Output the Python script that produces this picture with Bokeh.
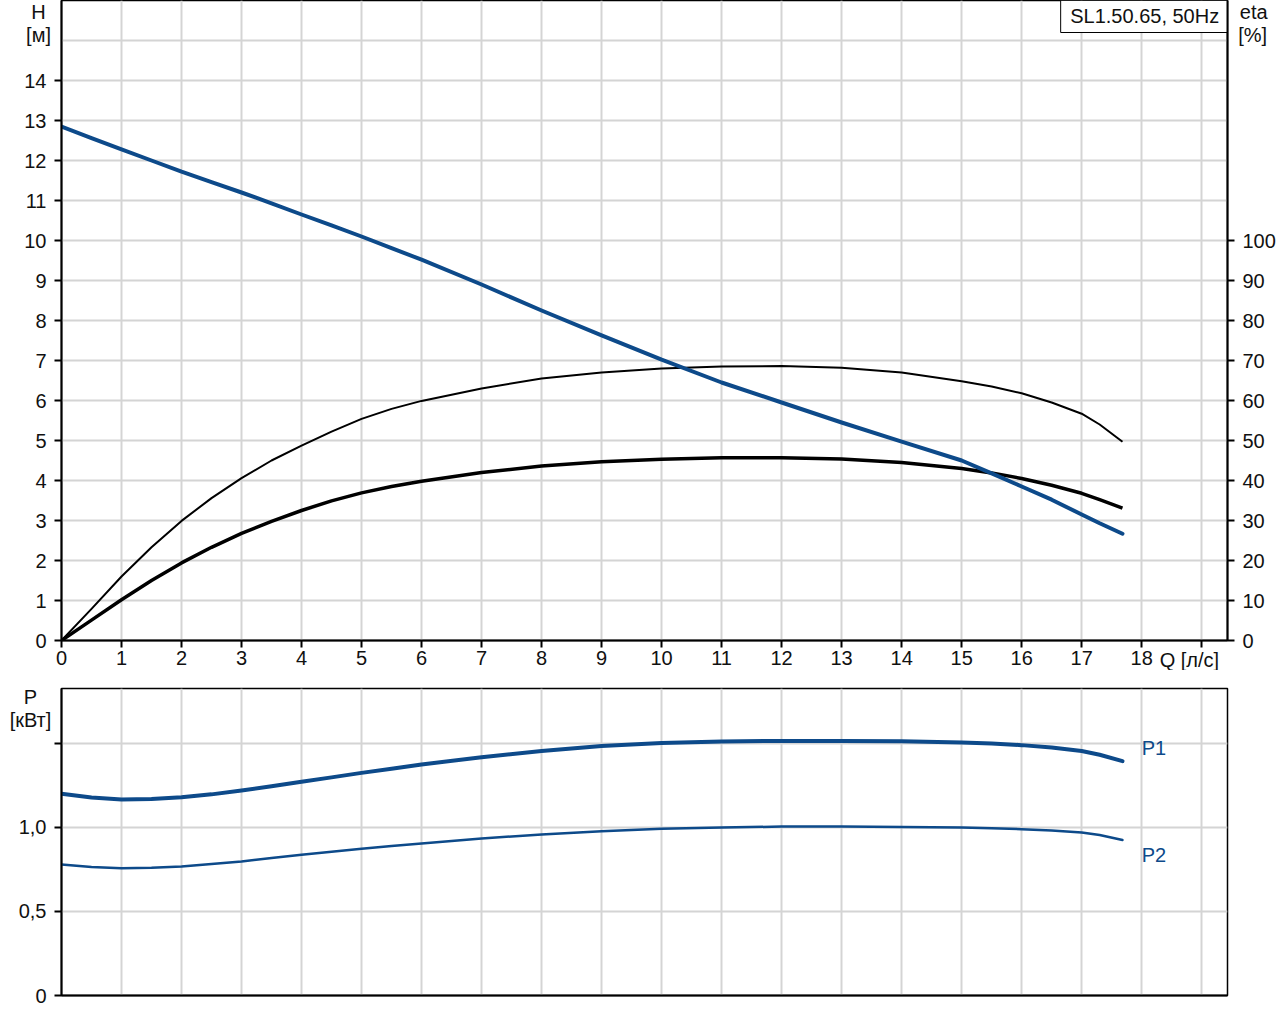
from bokeh.plotting import figure
from bokeh.models import Range1d, LinearAxis, FixedTicker, Label
from bokeh.layouts import column
from bokeh.embed import file_html
from bokeh.resources import INLINE

# ---- data ----
q = [0, 0.5, 1, 1.5, 2, 2.5, 3, 3.5, 4, 4.5, 5, 5.5, 6, 7, 8, 9, 10, 11, 12, 13, 14, 15, 15.5,
     16, 16.5, 17, 17.3, 17.68]
head = [12.85, 12.56, 12.28, 12.0, 11.72, 11.46, 11.2, 10.93, 10.65, 10.38, 10.1, 9.81, 9.52,
        8.9, 8.25, 7.63, 7.02, 6.45, 5.95, 5.45, 4.97, 4.5, 4.18, 3.85, 3.52, 3.15, 2.93, 2.67]
eta_pump = [0, 7.9, 16, 23.3, 29.9, 35.6, 40.6, 45, 48.7, 52.2, 55.4, 57.9, 59.9, 63, 65.5, 67,
            68, 68.5, 68.6, 68.2, 67, 64.8, 63.5, 61.8, 59.5, 56.7, 54.0, 49.7]
eta_total = [0, 5.1, 10.2, 15, 19.4, 23.3, 26.8, 29.8, 32.5, 34.9, 36.9, 38.5, 39.8, 42, 43.6,
             44.7, 45.3, 45.7, 45.7, 45.4, 44.5, 43.0, 41.9, 40.5, 38.8, 36.8, 35.2, 33.1]
p1 = [1.2, 1.178, 1.167, 1.17, 1.18, 1.197, 1.22, 1.245, 1.272, 1.298, 1.325, 1.35, 1.375,
      1.418, 1.455, 1.485, 1.503, 1.512, 1.515, 1.515, 1.513, 1.505, 1.499, 1.49, 1.476,
      1.455, 1.433, 1.395]
p2 = [0.78, 0.765, 0.757, 0.76, 0.768, 0.782, 0.798, 0.818, 0.838, 0.856, 0.873, 0.89, 0.905,
      0.935, 0.958, 0.978, 0.993, 1.0, 1.005, 1.005, 1.003, 1.0, 0.996, 0.99, 0.982, 0.97,
      0.955, 0.925]

x_ticks = list(range(0, 20))
h_ticks = list(range(0, 15))
h_grid = list(range(0, 17))
eta_ticks = list(range(0, 101, 10))
p_ticks = [0, 0.5, 1.0, 1.5]
p_labels = {0: "0", 0.5: "0,5", 1: "1,0", 1.5: ""}
title = "SL1.50.65, 50Hz"

BLUE = "#0d4a8a"
GRID = "#d4d4d4"
FONT = "Liberation Sans"
FS = "20px"
TXT = "#111111"

X_MAX = 19.43
H_MAX = 16.0
P_MAX = 1.827


def style_axis(ax, standoff):
    ax.axis_line_width = 2
    ax.axis_line_color = "black"
    ax.major_tick_out = 7
    ax.major_tick_in = 0
    ax.major_tick_line_width = 2
    ax.minor_tick_out = 0
    ax.minor_tick_in = 0
    ax.major_label_text_font = FONT
    ax.major_label_text_font_size = FS
    ax.major_label_text_color = TXT
    ax.major_label_standoff = standoff


def outer_label(fig, txt, x, y, align="center", color=TXT):
    # placed in the (unused, outer) right panel so that it is not clipped to the frame;
    # its position still comes from the data coordinates
    fig.add_layout(Label(x=x, y=y, text=txt, text_align=align, text_baseline="middle",
                         text_font=FONT, text_font_size=FS, text_color=color), "right")


# ---------------- top figure ----------------
p = figure(frame_width=1166, frame_height=640, output_backend="svg", toolbar_location=None,
           x_range=Range1d(0, X_MAX), y_range=Range1d(0, H_MAX),
           min_border_left=61, min_border_right=53, min_border_top=0, min_border_bottom=30)
p.outline_line_color = "black"
p.outline_line_width = 1.5
p.extra_y_ranges = {"eta": Range1d(0, H_MAX * 10)}

p.xaxis.ticker = FixedTicker(ticks=x_ticks)
p.xaxis.major_label_overrides = {19: ""}
p.yaxis.ticker = FixedTicker(ticks=h_ticks)
style_axis(p.xaxis[0], 3)
style_axis(p.yaxis[0], 8)
rax = LinearAxis(y_range_name="eta", ticker=FixedTicker(ticks=eta_ticks))
style_axis(rax, 8)
p.add_layout(rax, "right")

p.xgrid.ticker = FixedTicker(ticks=x_ticks)
p.ygrid.ticker = FixedTicker(ticks=h_grid)
p.xgrid.grid_line_color = GRID
p.ygrid.grid_line_color = GRID
p.xgrid.grid_line_width = 2
p.ygrid.grid_line_width = 2

p.line(q, eta_pump, y_range_name="eta", line_color="black", line_width=2, line_join="round")
p.line(q, eta_total, y_range_name="eta", line_color="black", line_width=3.5, line_join="round")
p.line(q, head, line_color=BLUE, line_width=4, line_join="round", line_cap="round")

# title box
p.quad(left=[16.65], right=[X_MAX], bottom=[15.2], top=[H_MAX], fill_color="white",
       line_color="black", line_width=1)
p.add_layout(Label(x=18.05, y=15.62, text=title, text_align="center", text_baseline="middle",
                   text_font=FONT, text_font_size=FS, text_color=TXT))

outer_label(p, "H", -0.383, 15.725)
outer_label(p, "[м]", -0.383, 15.15)
outer_label(p, "eta", 19.867, 15.725)
outer_label(p, "[%]", 19.85, 15.15)
outer_label(p, "Q [л/с]", 18.3, -0.475, align="left")

# ---------------- bottom figure ----------------
b = figure(frame_width=1166, frame_height=307, output_backend="svg", toolbar_location=None,
           x_range=Range1d(0, X_MAX), y_range=Range1d(0, P_MAX),
           min_border_left=61, min_border_right=53, min_border_top=18, min_border_bottom=10)
b.outline_line_color = "black"
b.outline_line_width = 1.5
b.xaxis.ticker = FixedTicker(ticks=x_ticks)
b.yaxis.ticker = FixedTicker(ticks=p_ticks)
b.yaxis.major_label_overrides = p_labels
style_axis(b.xaxis[0], 0)
style_axis(b.yaxis[0], 8)
b.xaxis.major_tick_out = 0
b.xaxis.major_label_text_font_size = "0px"

b.xgrid.ticker = FixedTicker(ticks=x_ticks)
b.ygrid.ticker = FixedTicker(ticks=p_ticks)
b.xgrid.grid_line_color = GRID
b.ygrid.grid_line_color = GRID
b.xgrid.grid_line_width = 2
b.ygrid.grid_line_width = 2

b.line(q, p1, line_color=BLUE, line_width=4, line_join="round", line_cap="round")
b.line(q, p2, line_color=BLUE, line_width=2.5, line_join="round", line_cap="round")

for txt, yy in [("P1", 1.47), ("P2", 0.835)]:
    b.add_layout(Label(x=18.0, y=yy, text=txt, text_align="left", text_baseline="middle",
                       text_font=FONT, text_font_size=FS, text_color=BLUE))
outer_label(b, "P", -0.517, 1.774)
outer_label(b, "[кВт]", -0.517, 1.637)

layout = column(p, b, spacing=0)
open("out.html", "w").write(file_html(layout, INLINE))
